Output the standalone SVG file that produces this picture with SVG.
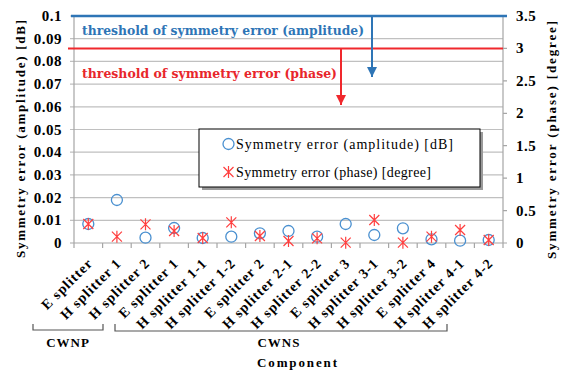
<svg xmlns="http://www.w3.org/2000/svg" xmlns:xlink="http://www.w3.org/1999/xlink" width="562" height="371" viewBox="0 0 562 371">
<style>
.grid{stroke:#c0c0c0;stroke-width:1.2;fill:none}
.axis{stroke:#a6a6a6;stroke-width:1.2;fill:none}
.tl{font-family:"Liberation Serif",serif;font-weight:bold;font-size:15px;letter-spacing:0.5px;fill:#000}
.ttl{font-family:"Liberation Serif",serif;font-weight:bold;font-size:13px;fill:#000}
.cat{font-family:"Liberation Serif",serif;font-weight:bold;font-size:14px;letter-spacing:1px;fill:#000}
.leg{font-family:"Liberation Serif",serif;font-size:14px;fill:#000}
.thr{font-family:"DejaVu Serif",serif;font-weight:bold;font-size:12px}
.circ{fill:none;stroke:#4a90d0;stroke-width:1.3}
.ast{fill:none;stroke:#ff3f3f;stroke-width:1.2}
.brk{stroke:#555;stroke-width:1.2;fill:none}
</style>
<defs>
<path id="star" class="ast" d="M-5,-5L5,5M-5,5L5,-5M0,-6V6"/>
<marker id="ab" viewBox="0 0 10 10" refX="5" refY="10" markerWidth="10" markerHeight="10" markerUnits="userSpaceOnUse"><path d="M0,0L10,0L5,10Z" fill="#2e75b6"/></marker>
<marker id="ar" viewBox="0 0 10 10" refX="5" refY="10" markerWidth="10" markerHeight="10" markerUnits="userSpaceOnUse"><path d="M0,0L10,0L5,10Z" fill="#f0282d"/></marker>
</defs>
<rect width="562" height="371" fill="#fff"/>
<g id="gridlines">
<path class="grid" d="M70,220.3H503M70,197.6H503M70,174.9H503M70,152.2H503M70,129.5H503M70,106.8H503M70,84.1H503M70,61.4H503M70,38.7H503M70,16H503"/>
<path class="axis" d="M74,16V243M503,16V243M70,243H507"/>
<path class="axis" d="M503,210.6H507M503,178.1H507M503,145.7H507M503,113.3H507M503,80.9H507M503,48.4H507M503,16H507"/>
<path class="axis" d="M74,243V248M102.6,243V248M131.2,243V248M159.8,243V248M188.4,243V248M217,243V248M245.6,243V248M274.2,243V248M302.8,243V248M331.4,243V248M360,243V248M388.6,243V248M417.2,243V248M445.8,243V248M474.4,243V248M503,243V248"/>
</g>
<g id="left-axis-labels" class="tl" text-anchor="end">
<text x="62" y="21">0.1</text>
<text x="62" y="43.7">0.09</text>
<text x="62" y="66.4">0.08</text>
<text x="62" y="89.1">0.07</text>
<text x="62" y="111.8">0.06</text>
<text x="62" y="134.5">0.05</text>
<text x="62" y="157.2">0.04</text>
<text x="62" y="179.9">0.03</text>
<text x="62" y="202.6">0.02</text>
<text x="62" y="225.3">0.01</text>
<text x="62" y="248">0</text>
</g>
<g id="right-axis-labels" class="tl">
<text x="516" y="21">3.5</text>
<text x="516" y="53.4">3</text>
<text x="516" y="85.9">2.5</text>
<text x="516" y="118.3">2</text>
<text x="516" y="150.7">1.5</text>
<text x="516" y="183.1">1</text>
<text x="516" y="215.6">0.5</text>
<text x="516" y="248">0</text>
</g>
<text id="left-title" class="ttl" transform="translate(24.5,139) rotate(-90)" text-anchor="middle" textLength="238" lengthAdjust="spacing">Symmetry error (amplitude) [dB]</text>
<text id="right-title" class="ttl" transform="translate(556,140) rotate(-90)" text-anchor="middle" textLength="238" lengthAdjust="spacing">Symmetry error (phase) [degree]</text>
<g id="connectors">
<line x1="71" y1="16" x2="507" y2="16" stroke="#2e75b6" stroke-width="2.5"/>
<line x1="68" y1="48.4" x2="503" y2="48.4" stroke="#f0282d" stroke-width="2"/>
<line x1="372" y1="16" x2="372" y2="77" stroke="#2e75b6" stroke-width="2" marker-end="url(#ab)"/>
<line x1="341" y1="48.4" x2="341" y2="105" stroke="#f0282d" stroke-width="2" marker-end="url(#ar)"/>
</g>
<text id="thr-amp" class="thr" x="82" y="35" fill="#2e75b6" textLength="282" lengthAdjust="spacingAndGlyphs">threshold of symmetry error (amplitude)</text>
<text id="thr-phase" class="thr" x="82" y="78" fill="#e8262b" textLength="255" lengthAdjust="spacingAndGlyphs">threshold of symmetry error (phase)</text>
<g id="legend">
<rect x="202" y="132" width="281" height="58" fill="#9a9a9a"/>
<rect x="199" y="129" width="281" height="58" fill="#fff" stroke="#000" stroke-width="1"/>
<circle class="circ" cx="228.5" cy="144" r="5.5"/>
<text class="leg" x="236" y="149" textLength="217" lengthAdjust="spacing">Symmetry error (amplitude) [dB]</text>
<use xlink:href="#star" x="228.5" y="172"/>
<text class="leg" x="236" y="177" textLength="195" lengthAdjust="spacing">Symmetry error (phase) [degree]</text>
</g>
<g id="amplitude-series">
<circle class="circ" cx="88.3" cy="224" r="5.5"/>
<circle class="circ" cx="116.9" cy="200" r="5.5"/>
<circle class="circ" cx="145.5" cy="237.7" r="5.5"/>
<circle class="circ" cx="174.1" cy="228" r="5.5"/>
<circle class="circ" cx="202.7" cy="238" r="5.5"/>
<circle class="circ" cx="231.3" cy="236.7" r="5.5"/>
<circle class="circ" cx="259.9" cy="233.3" r="5.5"/>
<circle class="circ" cx="288.5" cy="231" r="5.5"/>
<circle class="circ" cx="317.1" cy="236.7" r="5.5"/>
<circle class="circ" cx="345.7" cy="224" r="5.5"/>
<circle class="circ" cx="374.3" cy="235" r="5.5"/>
<circle class="circ" cx="402.9" cy="228.3" r="5.5"/>
<circle class="circ" cx="431.5" cy="239.3" r="5.5"/>
<circle class="circ" cx="460.1" cy="240.7" r="5.5"/>
<circle class="circ" cx="488.7" cy="240" r="5.5"/>
</g>
<g id="phase-series">
<use xlink:href="#star" x="88.3" y="224"/>
<use xlink:href="#star" x="116.9" y="236.7"/>
<use xlink:href="#star" x="145.5" y="224.3"/>
<use xlink:href="#star" x="174.1" y="231"/>
<use xlink:href="#star" x="202.7" y="238"/>
<use xlink:href="#star" x="231.3" y="222.3"/>
<use xlink:href="#star" x="259.9" y="236"/>
<use xlink:href="#star" x="288.5" y="241"/>
<use xlink:href="#star" x="317.1" y="238.3"/>
<use xlink:href="#star" x="345.7" y="242.7"/>
<use xlink:href="#star" x="374.3" y="220"/>
<use xlink:href="#star" x="402.9" y="242.7"/>
<use xlink:href="#star" x="431.5" y="236.7"/>
<use xlink:href="#star" x="460.1" y="230"/>
<use xlink:href="#star" x="488.7" y="240"/>
</g>
<g id="categories" class="cat" text-anchor="end">
<text transform="translate(93.5,264) rotate(-45)">E splitter</text>
<text transform="translate(122.1,264) rotate(-45)">H splitter 1</text>
<text transform="translate(150.7,264) rotate(-45)">H splitter 2</text>
<text transform="translate(179.3,264) rotate(-45)">E splitter 1</text>
<text transform="translate(207.9,264) rotate(-45)">H splitter 1-1</text>
<text transform="translate(236.5,264) rotate(-45)">H splitter 1-2</text>
<text transform="translate(265.1,264) rotate(-45)">E splitter 2</text>
<text transform="translate(293.7,264) rotate(-45)">H splitter 2-1</text>
<text transform="translate(322.3,264) rotate(-45)">H splitter 2-2</text>
<text transform="translate(350.9,264) rotate(-45)">E splitter 3</text>
<text transform="translate(379.5,264) rotate(-45)">H splitter 3-1</text>
<text transform="translate(408.1,264) rotate(-45)">H splitter 3-2</text>
<text transform="translate(436.7,264) rotate(-45)">E splitter 4</text>
<text transform="translate(465.3,264) rotate(-45)">H splitter 4-1</text>
<text transform="translate(493.9,264) rotate(-45)">H splitter 4-2</text>
</g>
<g id="brackets">
<path class="brk" d="M33,324V330H103V324"/>
<path class="brk" d="M115,324V331H447V324"/>
</g>
<text id="cwnp" class="ttl" x="68" y="347" text-anchor="middle" font-size="14" letter-spacing="1">CWNP</text>
<text id="cwns" class="ttl" x="279" y="347" text-anchor="middle" font-size="14" letter-spacing="1">CWNS</text>
<text id="component" class="ttl" x="297" y="367" text-anchor="middle" textLength="80" lengthAdjust="spacing">Component</text>
</svg>
